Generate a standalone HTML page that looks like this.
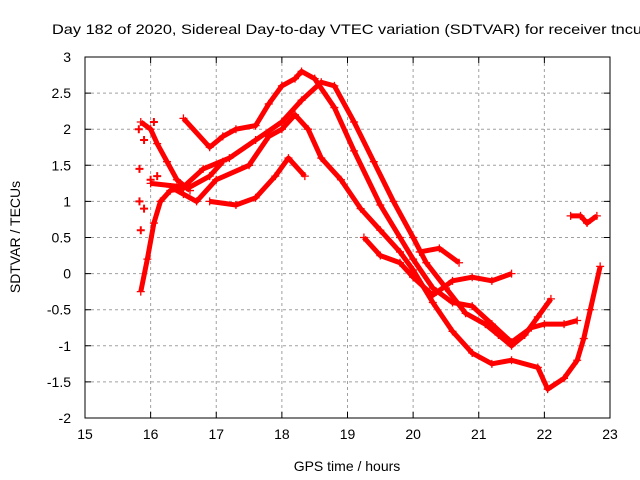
<!DOCTYPE html>
<html><head><meta charset="utf-8"><style>
body{margin:0;background:#fff}
svg{display:block;font-family:"Liberation Sans",sans-serif}
</style></head><body>
<svg id="chart" width="640" height="480" viewBox="0 0 640 480">
<text x="52" y="34" font-size="14" textLength="590" lengthAdjust="spacingAndGlyphs">Day 182 of 2020, Sidereal Day-to-day VTEC variation (SDTVAR) for receiver tncu</text>
<text transform="translate(20,237) rotate(-90)" text-anchor="middle" font-size="14">SDTVAR / TECUs</text>
<text x="347" y="471" text-anchor="middle" font-size="14">GPS time / hours</text>
<g id="grid"></g><g id="series"></g><g id="axes"></g>
</svg>
<script>
const xTicks=[15,16,17,18,19,20,21,22,23];
const yTicks=[-2,-1.5,-1,-0.5,0,0.5,1,1.5,2,2.5,3];
const traceA=[[16.5,2.15],[16.9,1.75],[17.1,1.9],[17.3,2.0],[17.6,2.05],[17.8,2.35],[18.0,2.6],[18.2,2.7],[18.3,2.8],[18.5,2.7],[18.8,2.3],[19.1,1.7],[19.5,0.95],[19.8,0.5],[20.0,0.2],[20.3,-0.2],[20.6,-0.4],[20.9,-0.45],[21.2,-0.7],[21.5,-0.95],[21.8,-0.75],[22.0,-0.7],[22.3,-0.7],[22.5,-0.65]];
const traceB=[[16.0,1.25],[16.5,1.2],[16.8,1.45],[17.2,1.6],[17.6,1.85],[18.0,2.1],[18.3,2.4],[18.6,2.65],[18.8,2.6],[19.1,2.1],[19.4,1.55],[19.7,1.0],[20.0,0.5],[20.2,0.15],[20.5,-0.2],[20.8,-0.55],[21.1,-0.7],[21.3,-0.85],[21.5,-1.0],[21.7,-0.85],[21.9,-0.6],[22.1,-0.35]];
const traceC=[[16.3,1.2],[16.5,1.1],[16.7,1.0],[17.0,1.3],[17.5,1.5],[17.8,1.9],[18.0,2.0],[18.2,2.2],[18.4,2.0],[18.6,1.6],[18.9,1.3],[19.2,0.9],[19.5,0.6],[19.8,0.3],[20.0,0.05],[20.3,-0.4],[20.6,-0.8],[20.9,-1.1],[21.2,-1.25],[21.5,-1.2],[21.9,-1.3],[22.05,-1.6],[22.3,-1.45],[22.5,-1.2],[22.6,-0.9],[22.7,-0.5],[22.85,0.1]];
const traceD=[[16.9,1.0],[17.3,0.95],[17.6,1.05],[17.9,1.35],[18.1,1.6],[18.35,1.35]];
const traceE=[[19.25,0.5],[19.5,0.25],[19.8,0.15],[20.0,-0.05],[20.3,-0.3],[20.6,-0.1],[20.9,-0.05],[21.2,-0.1],[21.5,0.0]];
const traceF=[[20.1,0.3],[20.4,0.35],[20.7,0.15]];
const traceG=[[15.85,-0.25],[15.95,0.2],[16.05,0.7],[16.15,1.0],[16.3,1.15],[16.6,1.2],[16.9,1.35],[17.1,1.55]];
const traceH=[[15.85,2.1],[16.0,2.0],[16.1,1.8],[16.25,1.55],[16.4,1.3],[16.6,1.15]];
const traceI=[[22.4,0.8],[22.55,0.8],[22.65,0.7],[22.8,0.8]];
const scatterPts=[[15.83,1.45],[15.83,1.0],[15.85,0.6],[15.82,2.0],[15.9,1.85],[16.05,2.1],[15.9,0.9],[16.0,1.3],[16.1,1.35]];
const X0=15,X1=23,Y0=-2,Y1=3,L=85,R=610,T=57,B=418;
const sx=v=>L+(v-X0)/(X1-X0)*(R-L), sy=v=>B-(v-Y0)/(Y1-Y0)*(B-T);
const NS="http://www.w3.org/2000/svg";
const mk=(p,t,a)=>{const e=document.createElementNS(NS,t);for(const k in a)e.setAttribute(k,a[k]);p.appendChild(e);return e;};
const grid=document.getElementById('grid'),axes=document.getElementById('axes'),ser=document.getElementById('series');
xTicks.forEach(v=>{
 if(v>X0&&v<X1){const g=mk(grid,'line',{x1:sx(v),x2:sx(v),y1:T,y2:B,stroke:'#a0a0a0','stroke-dasharray':'3,3'});
 
 }
 const tk=mk(axes,'path',{d:`M${sx(v)} ${B}v-6M${sx(v)} ${T}v6`,stroke:'#000'});
 
 
 const t=mk(axes,'text',{x:sx(v),y:B+21,'text-anchor':'middle','font-size':14});t.textContent=v;
 
 
});
yTicks.forEach(v=>{
 if(v>Y0&&v<Y1){const g=mk(grid,'line',{x1:L,x2:R,y1:sy(v),y2:sy(v),stroke:'#a0a0a0','stroke-dasharray':'3,3'});
 
 }
 const tk=mk(axes,'path',{d:`M${L} ${sy(v)}h6M${R} ${sy(v)}h-6`,stroke:'#000'});
 
 
 const t=mk(axes,'text',{x:L-14,y:sy(v)+5,'text-anchor':'end','font-size':14});t.textContent=v;
 
 
});
const fr=mk(axes,'rect',{x:L,y:T,width:R-L,height:B-T,fill:'none',stroke:'#000'});


function plus(x,y){return `M${x-4} ${y}h8M${x} ${y-4}v8`;}
[traceA,traceB,traceC,traceD,traceE,traceF,traceG,traceH,traceI].forEach((tr,i)=>{
 const pl=mk(ser,'polyline',{points:tr.map(p=>sx(p[0])+','+sy(p[1])).join(' '),fill:'none',stroke:'#f00','stroke-width':5,'stroke-linejoin':'round'});
 
 
 const m=mk(ser,'path',{d:tr.map(p=>plus(sx(p[0]),sy(p[1]))).join(''),stroke:'#f00','stroke-width':1.3});
 
 
});
const sc=mk(ser,'path',{d:scatterPts.map(p=>plus(sx(p[0]),sy(p[1]))).join(''),stroke:'#f00','stroke-width':2});


</script>
</body></html>
